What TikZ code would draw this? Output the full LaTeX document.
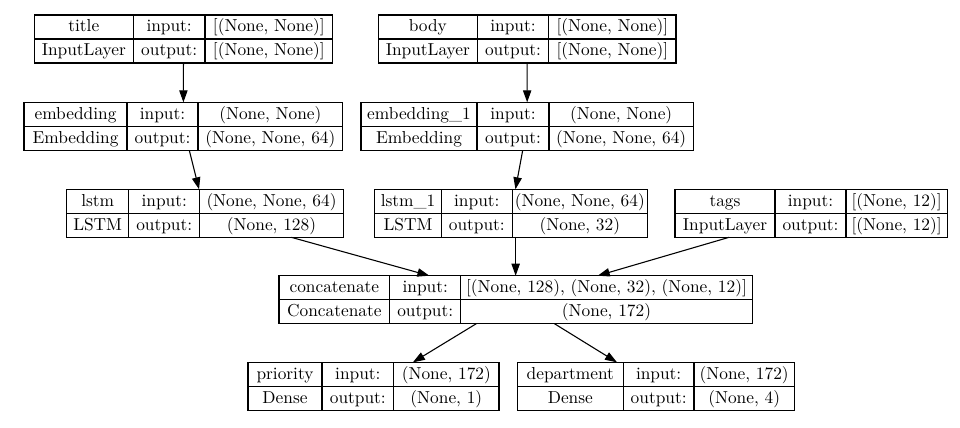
\documentclass[tikz,border=0pt]{standalone}
\usetikzlibrary{arrows.meta}
\newcommand\klayer[6]{\def\kn{#1}\def\kxa{#2}\def\kda{#3}\def\kdb{#4}\def\kxb{#5}\def\kyt{#6}\klayerb}
\newcommand\klayerb[4]{%
  \node[layerbox, anchor=north west, minimum width={(\kxb-\kxa)*0.6}] (\kn) at (\kxa,\kyt) {};
  \draw[cellline] (\kxa,\kyt+24) -- (\kxb,\kyt+24);
  \draw[cellline] (\kda,\kyt) -- (\kda,\kyt+48);
  \draw[cellline] (\kdb,\kyt) -- (\kdb,\kyt+48);
  \node[celltext] at ({(\kxa+\kda)/2},\kyt+16.8) {#1};
  \node[celltext] at ({(\kxa+\kda)/2},\kyt+40.8) {#2};
  \node[celltext] at ({(\kda+\kdb)/2},\kyt+16.8) {input:};
  \node[celltext] at ({(\kda+\kdb)/2},\kyt+40.8) {output:};
  \node[celltext] at ({(\kdb+\kxb)/2},\kyt+16.8) {#3};
  \node[celltext] at ({(\kdb+\kxb)/2},\kyt+40.8) {#4};
}
\tikzset{
  layerbox/.style={draw, line width=0.65pt, minimum height=28.8pt, inner sep=0pt, outer sep=0pt},
  cellline/.style={line width=0.65pt},
  celltext/.style={anchor=base, inner sep=0pt, font=\fontsize{10.4}{12.5}\selectfont},
  flow/.style={line width=0.65pt, -{Triangle[length=7.2pt,width=5pt]}}
}
\begin{document}
\begin{tikzpicture}[x=0.6pt, y=-0.6pt]
\useasboundingbox (0,0) rectangle (960,427);
\klayer{title}{34.3}{133.3}{205}{332.7}{15}{title}{InputLayer}{[(None, None)]}{[(None, None)]}
\klayer{body}{378.3}{477.3}{548.7}{676}{15}{body}{InputLayer}{[(None, None)]}{[(None, None)]}
\klayer{embedding}{24}{127}{198}{342.7}{102.3}{embedding}{Embedding}{(None, None)}{(None, None, 64)}
\klayer{embedding1}{361}{477}{549}{693.3}{102.3}{embedding\_1}{Embedding}{(None, None)}{(None, None, 64)}
\klayer{lstm}{66.7}{128.7}{199.7}{343.3}{189.3}{lstm}{LSTM}{(None, None, 64)}{(None, 128)}
\klayer{lstm1}{374.7}{441.3}{512.3}{647.3}{189.3}{lstm\_1}{LSTM}{(None, None, 64)}{(None, 32)}
\klayer{tags}{675}{775}{846}{947.3}{189.3}{tags}{InputLayer}{[(None, 12)]}{[(None, 12)]}
\klayer{concatenate}{279}{389.7}{460.7}{752.3}{275.7}{concatenate}{Concatenate}{[(None, 128), (None, 32), (None, 12)]}{(None, 172)}
\klayer{priority}{248}{322}{393.7}{499}{362.3}{priority}{Dense}{(None, 172)}{(None, 1)}
\klayer{department}{517.3}{623.3}{694}{794.3}{362.3}{department}{Dense}{(None, 172)}{(None, 4)}
\draw[flow] (title) -- (embedding);
\draw[flow] (body) -- (embedding1);
\draw[flow] (embedding) -- (lstm);
\draw[flow] (embedding1) -- (lstm1);
\draw[flow] (lstm) -- (concatenate);
\draw[flow] (lstm1.south -| concatenate.north) -- (concatenate.north);
\draw[flow] (tags) -- (concatenate);
\draw[flow] (concatenate) -- (priority);
\draw[flow] (concatenate) -- (department);
\end{tikzpicture}
\end{document}
